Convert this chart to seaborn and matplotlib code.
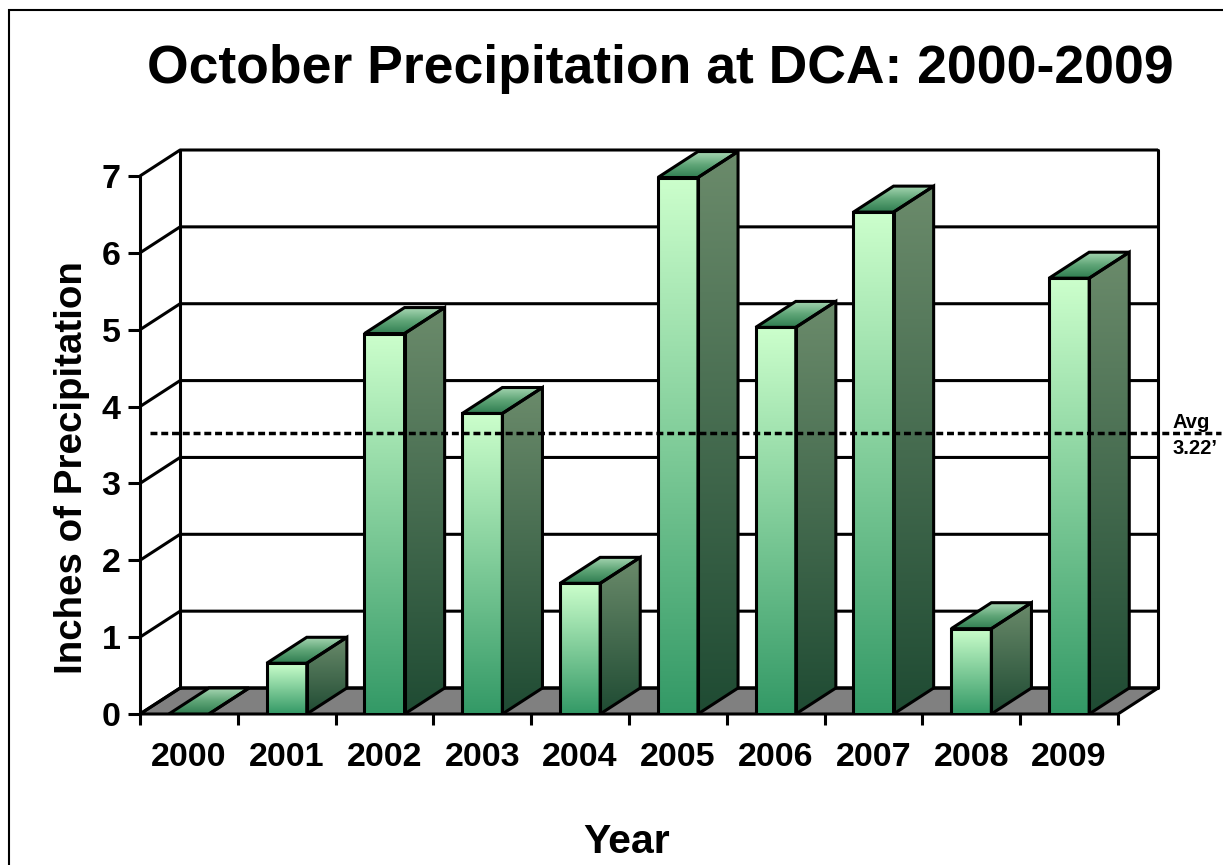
import numpy as np
import matplotlib.pyplot as plt
import seaborn as sns
from matplotlib.patches import Polygon, Rectangle
from matplotlib.colors import LinearSegmentedColormap

# data
years = ['2000', '2001', '2002', '2003', '2004', '2005', '2006', '2007', '2008', '2009']
precip = [0.0, 0.66, 4.95, 3.91, 1.70, 6.98, 5.03, 6.53, 1.11, 5.67]
y_ticks = [0, 1, 2, 3, 4, 5, 6, 7]
avg_line = 3.65
avg_label = 'Avg\n3.22\u2019'

sns.set_style('white')
plt.rcParams['font.family'] = ['Liberation Sans', 'DejaVu Sans']
plt.rcParams['font.weight'] = 'bold'

# fake 3D depth, in data units
DX, DY = 0.41, 0.338
LW = 2.2

fig = plt.figure(figsize=(12.23, 8.65), dpi=100)
ax = fig.add_axes([140 / 1223, 151 / 865, 10.41 * 97.8 / 1223, 7.338 * 76.86 / 865])

sns.barplot(x=years, y=precip, width=0.41, color='#88cc99', ax=ax, zorder=4)
bars = list(ax.patches)

front_cmap = LinearSegmentedColormap.from_list('front', ['#339966', '#ccffcc'])
side_cmap = LinearSegmentedColormap.from_list('side', ['#1f4b33', '#6b8b6b'])
top_cmap = LinearSegmentedColormap.from_list('top', ['#2f7d50', '#5fa577', '#a6d6b2'])
grad = np.linspace(0, 1, 256).reshape(-1, 1)

for bar in bars:
    x0 = bar.get_x()
    w = bar.get_width()
    h = bar.get_height()
    x1 = x0 + w
    if h > 0:
        im = ax.imshow(grad, extent=[x0, x1, 0, h], origin='lower', aspect='auto',
                       cmap=front_cmap, zorder=3, interpolation='bilinear')
        im.set_clip_path(bar)
    bar.set_facecolor('none')
    bar.set_edgecolor('black')
    bar.set_linewidth(LW)
    bar.set_zorder(4)

    side = Polygon([(x1, 0), (x1 + DX, DY), (x1 + DX, h + DY), (x1, h)], closed=True,
                   fc='none', ec='black', lw=LW, zorder=4, joinstyle='miter')
    ax.add_patch(side)
    im = ax.imshow(grad, extent=[x1, x1 + DX, 0, h + DY], origin='lower', aspect='auto',
                   cmap=side_cmap, zorder=3, interpolation='bilinear')
    im.set_clip_path(side)

    top = Polygon([(x0, h), (x1, h), (x1 + DX, h + DY), (x0 + DX, h + DY)], closed=True,
                  fc='none', ec='black', lw=LW, zorder=4, joinstyle='miter')
    ax.add_patch(top)
    im = ax.imshow(grad, extent=[x0, x1 + DX, h, h + DY], origin='lower', aspect='auto',
                   cmap=top_cmap, zorder=3, interpolation='bilinear')
    im.set_clip_path(top)

# floor
ax.add_patch(Polygon([(-0.5, 0), (9.5, 0), (9.5 + DX, DY), (-0.5 + DX, DY)], closed=True,
                     fc='#808080', ec='black', lw=LW, zorder=1, clip_on=False))

# side wall diagonals + back wall gridlines
for k in y_ticks:
    ax.plot([-0.5, -0.5 + DX, 9.5 + DX], [k, k + DY, k + DY], color='black', lw=LW,
            zorder=2, clip_on=False, solid_capstyle='butt')
ax.plot([-0.5 + DX, -0.5 + DX], [DY, y_ticks[-1] + DY], color='black', lw=LW, zorder=2, clip_on=False)
ax.plot([9.5 + DX, 9.5 + DX], [DY, y_ticks[-1] + DY], color='black', lw=LW, zorder=2, clip_on=False)
ax.plot([-0.5, -0.5], [0, y_ticks[-1]], color='black', lw=LW, zorder=2, clip_on=False)

# average line and label
ax.plot([-0.4, 10.55], [avg_line, avg_line], color='black', lw=2.5, dashes=(2.0, 1.1),
        zorder=6, clip_on=False)
ax.text(10.06, avg_line - 0.03, avg_label, fontsize=14.5, fontweight='bold', ha='left',
        va='center', linespacing=1.45, color='black', clip_on=False)

for s in ax.spines.values():
    s.set_visible(False)

ax.set_yticks(y_ticks)
ax.tick_params(axis='y', left=True, length=9, width=LW, pad=5, labelsize=24.5, colors='black')
ax.set_xticks(range(len(years)))
ax.set_xticklabels(years)
ax.set_xticks(np.arange(-0.5, len(years), 1), minor=True)
ax.tick_params(axis='x', which='major', bottom=True, length=0, pad=20, labelsize=24.5, colors='black')
ax.tick_params(axis='x', which='minor', bottom=True, length=8, width=LW, colors='black')
ax.set_xlabel('')
ax.set_ylabel('')
ax.set_xlim(-0.5, 9.5 + DX)
ax.set_ylim(0, y_ticks[-1] + DY)
for lbl in ax.get_xticklabels() + ax.get_yticklabels():
    lbl.set_fontweight('bold')

fig.text(660 / 1223, 1 - 83 / 865, 'October Precipitation at DCA: 2000-2009', ha='center',
         va='baseline', fontsize=38.5, fontweight='bold', color='black')
fig.text(72 / 1223, 1 - 468 / 865, 'Inches of Precipitation', ha='center', va='center',
         rotation=90, fontsize=27.7, fontweight='bold', color='black')
fig.text(627 / 1223, 1 - 853 / 865, 'Year', ha='center', va='baseline', fontsize=29.5,
         fontweight='bold', color='black')

fig.add_artist(Rectangle((9 / 1223, -0.05), 1.2, 1 - 10 / 865 + 0.05, transform=fig.transFigure,
                         fill=False, ec='black', lw=1.5))

fig.savefig('out.png', dpi=100)
